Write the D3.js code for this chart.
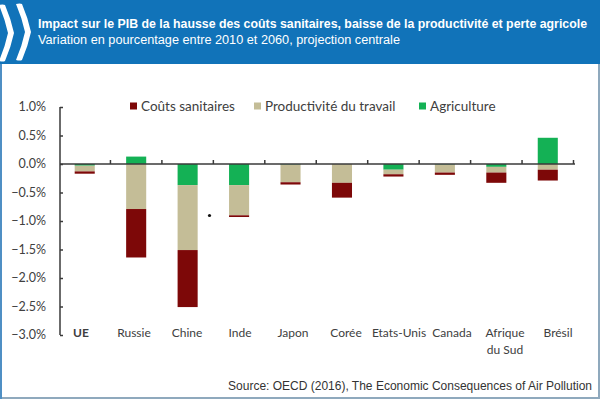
<!DOCTYPE html>
<html>
<head>
<meta charset="utf-8">
<script src="https://cdn.jsdelivr.net/npm/d3@7"></script>
<style>
  html, body { margin: 0; padding: 0; background: #fff; }
  svg { display: block; }
</style>
</head>
<body>
<div id="chart"></div>
<script>
// Data (percentage change 2010-2060)
const countries = ["UE", "Russie", "Chine", "Inde", "Japon", "Corée", "Etats-Unis", "Canada", "Afrique du Sud", "Brésil"];
const agriculture = [-0.03, 0.13, -0.37, -0.37, -0.01, 0.0, -0.10, -0.01, -0.05, 0.46];
const productivite = [-0.10, -0.79, -1.14, -0.53, -0.31, -0.33, -0.08, -0.14, -0.10, -0.10];
const sante = [-0.04, -0.85, -1.00, -0.03, -0.04, -0.26, -0.04, -0.04, -0.18, -0.19];
const seriesNames = ["Coûts sanitaires", "Productivité du travail", "Agriculture"];
const yTicks = [1.0, 0.5, 0.0, -0.5, -1.0, -1.5, -2.0, -2.5, -3.0];

const colors = {
  "Coûts sanitaires": "#7d0808",
  "Productivité du travail": "#c4bd97",
  "Agriculture": "#14b155"
};

const W = 600, H = 399;
const svg = d3.select("#chart").append("svg")
  .attr("width", W)
  .attr("height", H);

// Frame and header
svg.append("rect").attr("width", W).attr("height", H).attr("fill", "#8fa9bd");
svg.append("rect").attr("x", 2).attr("y", 0).attr("width", 596).attr("height", 397).attr("fill", "#ffffff");
svg.append("rect").attr("x", 0).attr("y", 0).attr("width", W).attr("height", 64).attr("fill", "#1173b9");
svg.append("rect").attr("x", 0).attr("y", 64).attr("width", 2).attr("height", 335).attr("fill", "#4f8fc4");

// OECD chevrons
const chevron = "M0,6 Q4,5 6,6 Q12,20 15,34 Q12,48 6,62 Q4,63 0,62 Q6,48 9,34 Q6,20 0,6 Z";
svg.append("path").attr("d", chevron).attr("fill", "#fff").attr("transform", "translate(-1,-1)");
svg.append("path").attr("d", chevron).attr("fill", "#fff").attr("transform", "translate(16,-2)");

svg.append("text")
  .attr("x", 38).attr("y", 28)
  .attr("font-family", "Liberation Sans, Arial, sans-serif")
  .attr("font-weight", "bold")
  .attr("font-size", 12.5)
  .attr("fill", "#fff")
  .attr("textLength", 549)
  .attr("lengthAdjust", "spacingAndGlyphs")
  .text("Impact sur le PIB de la hausse des coûts sanitaires, baisse de la productivité et perte agricole");

svg.append("text")
  .attr("x", 38).attr("y", 44)
  .attr("font-family", "Liberation Sans, Arial, sans-serif")
  .attr("font-size", 12.5)
  .attr("fill", "#fff")
  .attr("textLength", 362)
  .attr("lengthAdjust", "spacingAndGlyphs")
  .text("Variation en pourcentage entre 2010 et 2060, projection centrale");

// Scales
const x = d3.scaleBand()
  .domain(countries)
  .range([59, 573.5])
  .paddingInner(0.61)
  .paddingOuter(0.305);

// label positions sit slightly wider than the bars in the original
const xLabel = d3.scaleBand()
  .domain(countries)
  .range([54.5, 584.5]);

const y = d3.scaleLinear()
  .domain([-3.0, 1.0])
  .range([335, 107]);

// Stack: agriculture next to zero, then productivity, then health
const rows = countries.map((c, i) => ({
  country: c,
  "Agriculture": agriculture[i],
  "Productivité du travail": productivite[i],
  "Coûts sanitaires": sante[i]
}));

const stack = d3.stack()
  .keys(["Agriculture", "Productivité du travail", "Coûts sanitaires"])
  .offset(d3.stackOffsetDiverging);

const layers = stack(rows);

svg.append("g")
  .selectAll("g")
  .data(layers)
  .join("g")
  .attr("fill", d => colors[d.key])
  .selectAll("rect")
  .data(d => d)
  .join("rect")
  .attr("x", d => x(d.data.country))
  .attr("width", x.bandwidth())
  .attr("y", d => y(Math.max(d[0], d[1])))
  .attr("height", d => Math.abs(y(d[0]) - y(d[1])));

// Y axis
const axisColor = "#3a3a3a";
const yAxis = svg.append("g")
  .attr("transform", "translate(60,0)")
  .call(d3.axisRight(y)
    .tickValues(yTicks)
    .tickSize(3)
    .tickFormat(""));
yAxis.select(".domain").attr("stroke", axisColor).attr("stroke-width", 1.5)
  .attr("d", `M0,${y(1.0)}V${y(-3.0)}`);
yAxis.selectAll(".tick line").attr("stroke", axisColor).attr("stroke-width", 1.5);

svg.append("g")
  .selectAll("text")
  .data(yTicks)
  .join("text")
  .attr("x", 46)
  .attr("y", d => y(d))
  .attr("dy", "0.35em")
  .attr("text-anchor", "end")
  .attr("font-family", "Lato, sans-serif")
  .attr("font-size", 12.5)
  .attr("fill", "#404040")
  .text(d => d3.format(".1f")(d) + "%");

// Zero line with category ticks
const zeroAxis = svg.append("g")
  .attr("transform", `translate(0,${y(0)})`)
  .call(d3.axisTop(x).tickSize(0).tickFormat(""));
zeroAxis.select(".domain").attr("stroke", axisColor).attr("stroke-width", 1.5)
  .attr("d", `M60,0H575`);

svg.append("g")
  .selectAll("line")
  .data(countries.slice(1).concat([null]))
  .join("line")
  .attr("x1", (d, i) => d ? x.step() * (i + 1) + x.range()[0] : x.range()[1])
  .attr("x2", (d, i) => d ? x.step() * (i + 1) + x.range()[0] : x.range()[1])
  .attr("y1", y(0))
  .attr("y2", y(0) - 4)
  .attr("stroke", axisColor)
  .attr("stroke-width", 1.5);

// Category labels
svg.append("g")
  .selectAll("text")
  .data(countries)
  .join("text")
  .attr("x", d => xLabel(d) + xLabel.bandwidth() / 2)
  .attr("y", 337)
  .attr("text-anchor", "middle")
  .attr("font-family", "Lato, sans-serif")
  .attr("font-size", 12)
  .attr("font-weight", d => d === "UE" ? "bold" : "normal")
  .attr("fill", "#404040")
  .each(function(d) {
    const parts = d === "Afrique du Sud" ? ["Afrique", "du Sud"] : [d];
    d3.select(this).selectAll("tspan")
      .data(parts)
      .join("tspan")
      .attr("x", xLabel(d) + xLabel.bandwidth() / 2)
      .attr("dy", (p, i) => i === 0 ? 0 : 16.5)
      .text(p => p);
  });

// Legend
const legendX = [130, 254, 419];
const legend = svg.append("g")
  .selectAll("g")
  .data(seriesNames)
  .join("g")
  .attr("transform", (d, i) => `translate(${legendX[i]},106)`);
legend.append("rect")
  .attr("x", 0).attr("y", -3.5)
  .attr("width", 7).attr("height", 7)
  .attr("fill", d => colors[d]);
legend.append("text")
  .attr("x", 11)
  .attr("dy", "0.35em")
  .attr("font-family", "Lato, sans-serif")
  .attr("font-size", 13.5)
  .attr("fill", "#404040")
  .text(d => d);

// stray dot visible in the original picture
svg.append("circle").attr("cx", 209.5).attr("cy", 215.5).attr("r", 1.6).attr("fill", "#111");

// Source
svg.append("text")
  .attr("x", 592)
  .attr("y", 390)
  .attr("text-anchor", "end")
  .attr("font-family", "Liberation Sans, Arial, sans-serif")
  .attr("font-size", 12)
  .attr("fill", "#333")
  .text("Source: OECD (2016), The Economic Consequences of Air Pollution");
</script>
</body>
</html>
